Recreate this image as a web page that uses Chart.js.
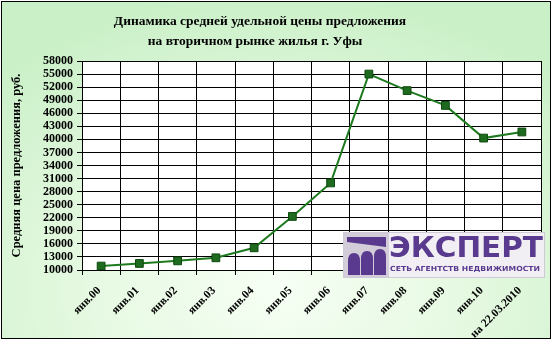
<!DOCTYPE html>
<html><head><meta charset="utf-8">
<script src="https://cdn.jsdelivr.net/npm/chart.js@4/dist/chart.umd.min.js"></script>
<style>
html,body{margin:0;padding:0;background:#fff;}
#wrap{position:relative;width:555px;height:342px;overflow:hidden;}
#bg{position:absolute;left:1px;top:1px;width:548px;height:336px;border:1px solid #000;
 background:radial-gradient(ellipse 75% 90% at 50% 85%, #f6fff4 0%, #e6f9e2 45%, #c9f0c6 100%);}
canvas{position:absolute;left:0;top:0;}
#logo{position:absolute;left:343px;top:232px;width:202px;height:46px;background:#f1eff3;border:1px solid #cfcad6;box-sizing:border-box;}
#logo .ico{position:absolute;left:0;top:0;width:45px;height:44px;background:#d2cdd9;}
#logo .big{position:absolute;left:45px;top:-2px;font:bold 28px "DejaVu Sans",sans-serif;color:#5a3a8e;transform-origin:0 0;white-space:nowrap;}
#logo .small{position:absolute;left:46px;top:32px;font:bold 7px "DejaVu Sans",sans-serif;color:#5a3a8e;white-space:nowrap;transform-origin:0 0;}
</style></head>
<body>
<div id="wrap">
<div id="bg"></div>
<canvas id="c" width="555" height="342"></canvas>
<div id="logo">
 <div class="ico"><svg width="45" height="44" viewBox="0 0 45 44">
  <polygon points="3,4 42,4 42,14 3,9" fill="#5a3a8e"/>
  <path d="M4,42 L4,28 Q4,20 10,20 Q16,20 16,28 L16,42 Z" fill="#5a3a8e"/>
  <path d="M17,42 L17,26 Q17,18 23,18 Q29,18 29,26 L29,42 Z" fill="#5a3a8e"/>
  <path d="M30,42 L30,24 Q30,16 36,16 Q42,16 42,24 L42,42 Z" fill="#5a3a8e"/>
 </svg></div>
 <div class="big" id="big">ЭКСПЕРТ</div>
 <div class="small" id="small">СЕТЬ АГЕНТСТВ НЕДВИЖИМОСТИ</div>
</div>
</div>
<script>
const categories = ['янв.00','янв.01','янв.02','янв.03','янв.04','янв.05','янв.06','янв.07','янв.08','янв.09','янв.10','на 22.03.2010'];
const prices = [10900, 11500, 12100, 12800, 15100, 22300, 30000, 55000, 51200, 47800, 40300, 41700];
const yMin = 10000, yMax = 58000, yStep = 3000;
const titleLines = ['Динамика средней удельной цены предложения', 'на вторичном рынке жилья г. Уфы'];
const yTitle = 'Средняя цена предложения, руб.';

const SERIF = '"Liberation Serif","Times New Roman",serif';

// fit logo texts to the logo width
(function(){
  const fit = (id, w) => { const el = document.getElementById(id); const cw = el.getBoundingClientRect().width; el.style.transform = 'scaleX(' + (w / cw) + ')'; };
  fit('big', 154); fit('small', 150);
})();

const plotBg = {
  id: 'plotBg',
  beforeDraw(chart) {
    const {ctx, chartArea: a} = chart;
    ctx.save();
    ctx.fillStyle = '#ffffff';
    ctx.fillRect(a.left, a.top, a.right - a.left, a.bottom - a.top);
    ctx.restore();
  },
  afterDraw(chart) {
    const {ctx} = chart;
    ctx.save();
    ctx.fillStyle = '#000';
    ctx.font = 'bold 13.5px ' + SERIF;
    ctx.textAlign = 'center';
    ctx.textBaseline = 'middle';
    ctx.fillText(titleLines[0], 260, 22);
    ctx.fillText(titleLines[1], 255, 42);
    ctx.restore();
  }
};

new Chart(document.getElementById('c'), {
  type: 'line',
  data: {
    labels: categories,
    datasets: [{
      data: prices,
      borderColor: '#1f7a1f',
      borderWidth: 2,
      backgroundColor: '#1e6a1e',
      pointStyle: 'rect',
      pointRadius: 5.5,
      pointBorderColor: '#0f4a0f',
      pointBorderWidth: 1,
      tension: 0
    }]
  },
  options: {
    responsive: false,
    animation: false,
    devicePixelRatio: 1,
    layout: {padding: {top: 61, right: 14, left: 5, bottom: 0}},
    plugins: {legend: {display: false}, tooltip: {enabled: false}, title: {display: false}},
    scales: {
      x: {
        offset: true,
        grid: {offset: true, color: '#000', lineWidth: 1, tickLength: 5, drawOnChartArea: true},
        border: {color: '#000', width: 1},
        ticks: {
          color: '#000', font: {family: SERIF, size: 11.5, weight: 'bold'},
          maxRotation: 45, minRotation: 45, autoSkip: false, padding: 9, labelOffset: -2
        },
        afterFit(s) { s.height = 72; }
      },
      y: {
        min: yMin, max: yMax,
        grid: {color: '#000', lineWidth: 1, tickLength: 5},
        border: {color: '#000', width: 1},
        ticks: {
          stepSize: yStep, color: '#000', padding: 4, autoSkip: false,
          font: {family: SERIF, size: 12, weight: 'bold'},
          callback: v => String(v)
        },
        title: {display: true, text: yTitle, color: '#000', padding: {top: 4, bottom: 0},
          font: {family: SERIF, size: 12.5, weight: 'bold'}},
        afterFit(s) { s.width = 77; }
      }
    }
  },
  plugins: [plotBg]
});
</script>
</body></html>
